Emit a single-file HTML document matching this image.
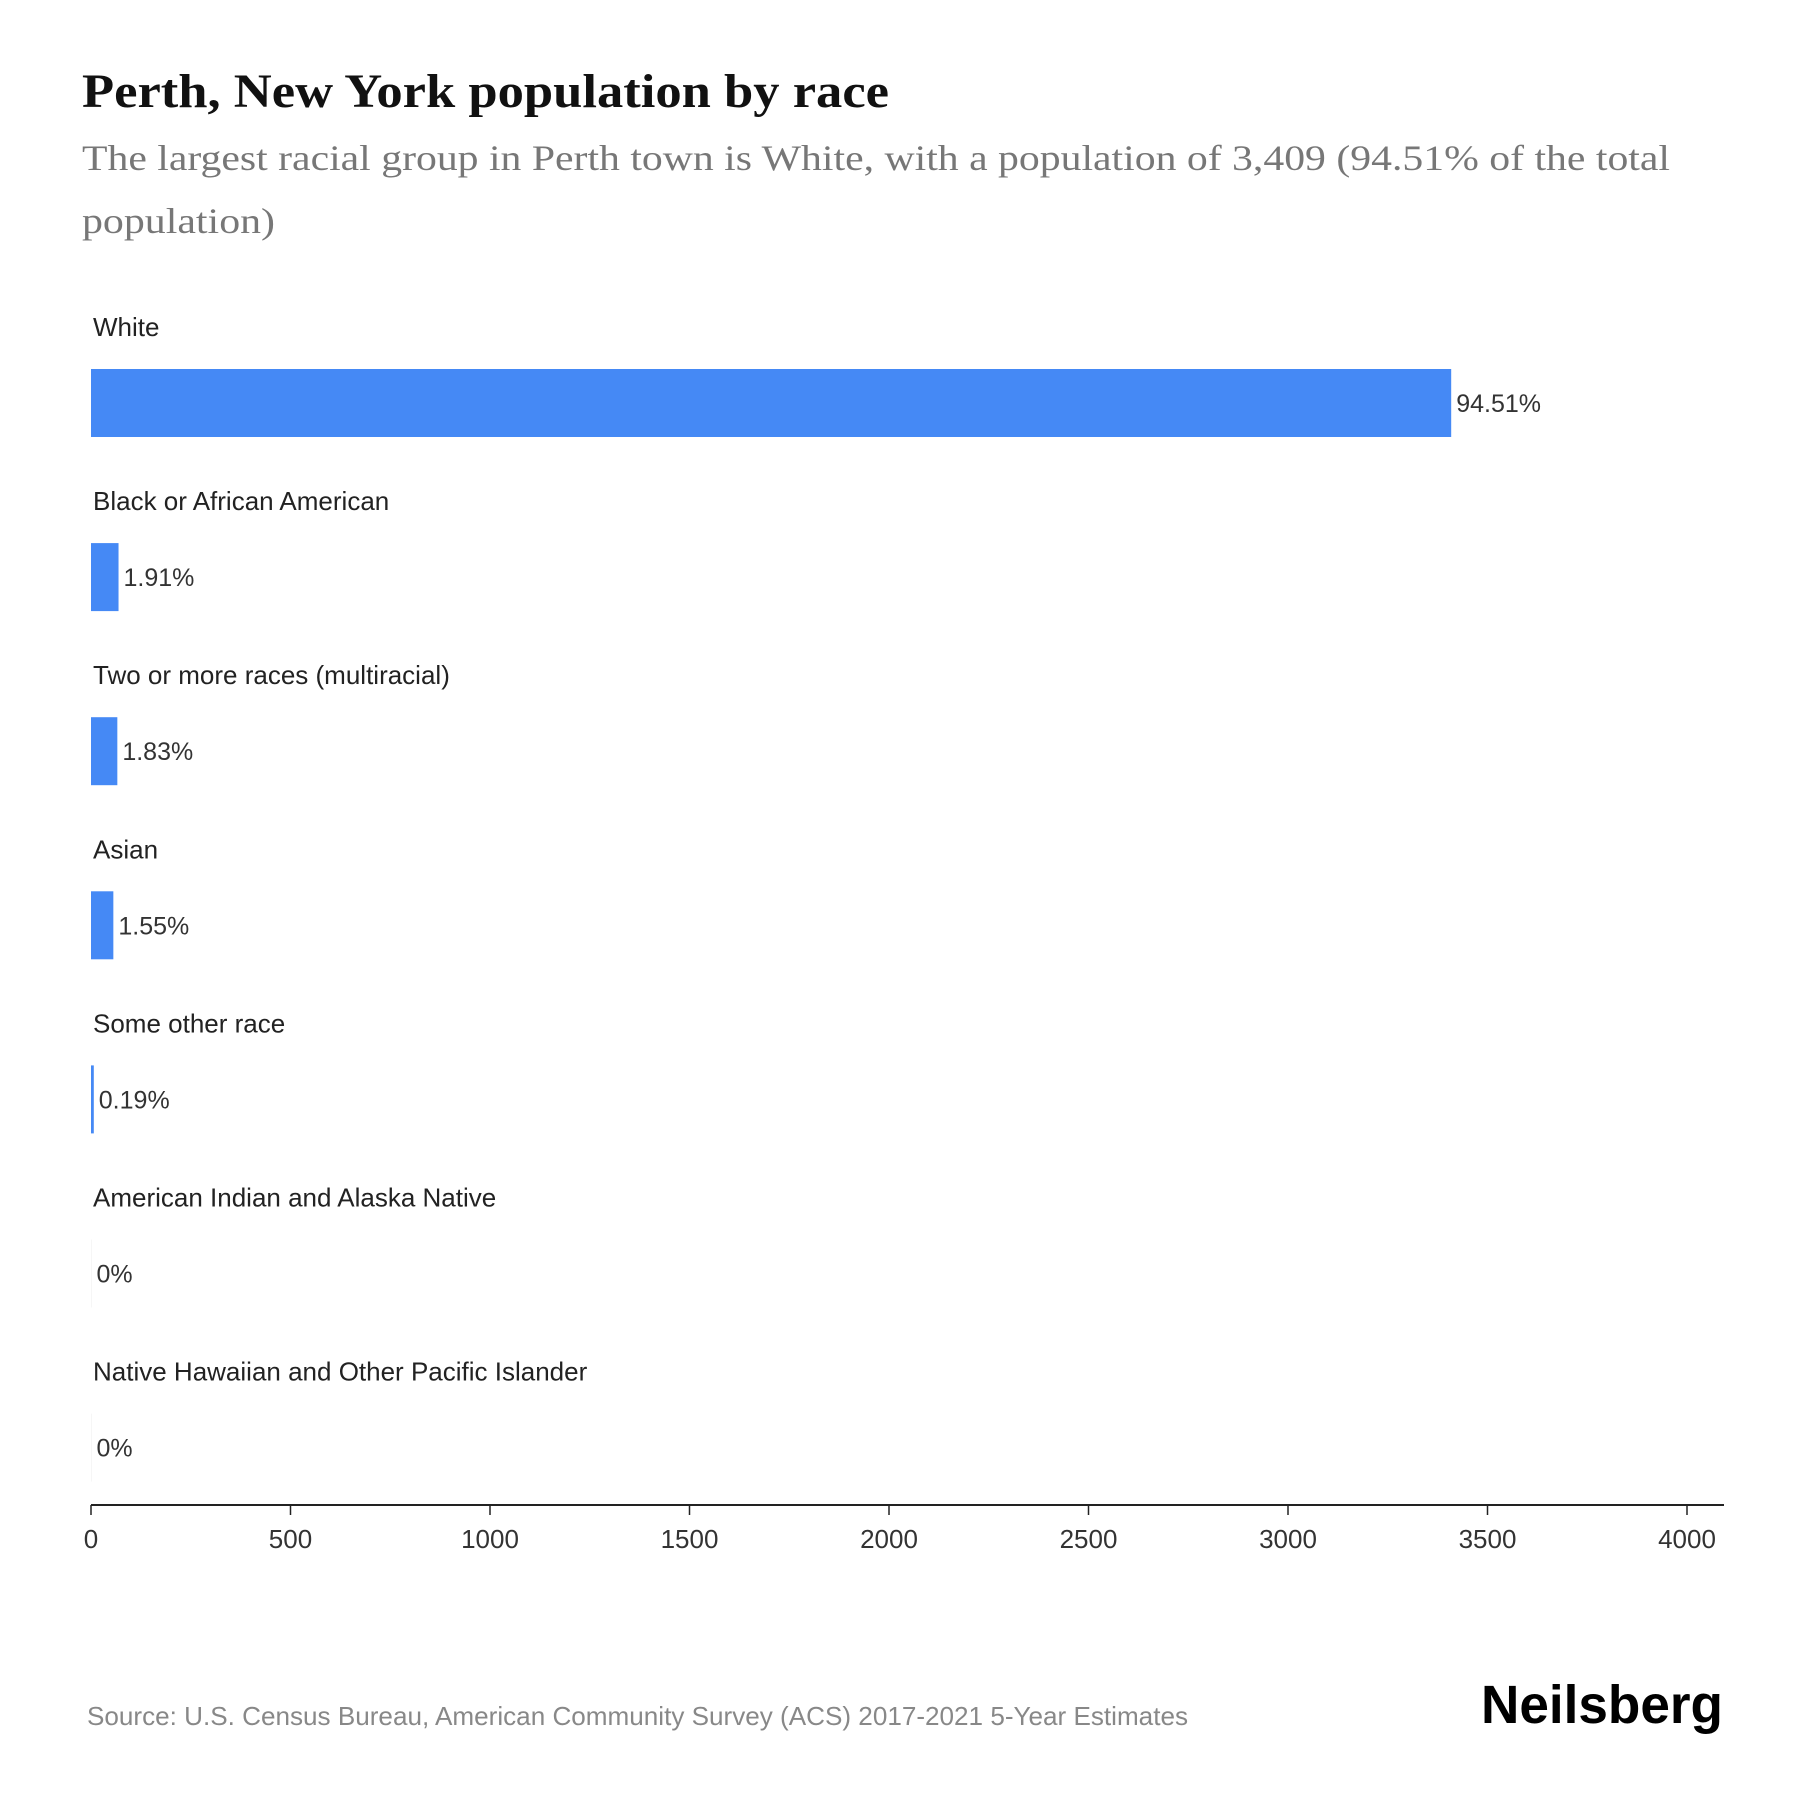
<!DOCTYPE html>
<html><head><meta charset="utf-8"><style>
body{margin:0;background:#fff;width:1800px;height:1800px;overflow:hidden}
svg text{font-family:"Liberation Sans",sans-serif}
</style></head><body>
<svg width="1800" height="1800" xmlns="http://www.w3.org/2000/svg">
<text x="82" y="107" font-weight="bold" font-size="48" fill="#111" textLength="807" lengthAdjust="spacingAndGlyphs" style="font-family:'Liberation Serif',serif">Perth, New York population by race</text>
<text x="82" y="170" font-size="36" fill="#777" textLength="1588" lengthAdjust="spacingAndGlyphs" style="font-family:'Liberation Serif',serif">The largest racial group in Perth town is White, with a population of 3,409 (94.51% of the total</text>
<text x="82" y="233" font-size="36" fill="#777" textLength="193" lengthAdjust="spacingAndGlyphs" style="font-family:'Liberation Serif',serif">population)</text>
<g id="bars"></g>
<g id="axis"></g>
<text x="87" y="1725" font-size="26" fill="#888" textLength="1101" lengthAdjust="spacingAndGlyphs">Source: U.S. Census Bureau, American Community Survey (ACS) 2017-2021 5-Year Estimates</text>
<text x="1481" y="1723" font-size="54" font-weight="bold" fill="#000" textLength="242" lengthAdjust="spacingAndGlyphs">Neilsberg</text>
</svg>
<script>
const categories=["White","Black or African American","Two or more races (multiracial)","Asian","Some other race","American Indian and Alaska Native","Native Hawaiian and Other Pacific Islander"];
const values=[3409,69,66,56,7,0,0];
const percentLabels=["94.51%","1.91%","1.83%","1.55%","0.19%","0%","0%"];
const ticks=[0,500,1000,1500,2000,2500,3000,3500,4000];
const NS="http://www.w3.org/2000/svg";
const x0=91,x1=1687,maxV=4000;
const xs=v=>x0+(x1-x0)*v/maxV;
const top0=369,step=174.1,bh=68;
const bars=document.getElementById('bars');
function mk(t,a){const e=document.createElementNS(NS,t);for(const k in a)e.setAttribute(k,a[k]);return e;}
categories.forEach((c,i)=>{
 const y=top0+i*step;
 const l=mk('text',{x:93,y:y-33,'font-size':26,fill:'#222'});l.textContent=c;
 
 
 bars.appendChild(l);
 const w=Math.max(xs(values[i])-x0,values[i]>0?1.5:0.5);
 const r=mk('rect',{x:x0,y:y,width:w,height:bh,fill:values[i]>0?'#4589f5':'#eee'});
 
 
 bars.appendChild(r);
 const v=mk('text',{x:x0+w+5,y:y+bh/2+9,'font-size':25,fill:'#333'});v.textContent=percentLabels[i];
 
 
 bars.appendChild(v);
});
const ax=document.getElementById('axis');
const line=mk('line',{x1:x0,x2:1724,y1:1505,y2:1505,stroke:'#222','stroke-width':2});


ax.appendChild(line);
ticks.forEach(t=>{
 const tl=mk('line',{x1:xs(t),x2:xs(t),y1:1505,y2:1515,stroke:'#222','stroke-width':1.5});
 
 
 ax.appendChild(tl);
 const tx=mk('text',{x:xs(t),y:1548,'text-anchor':'middle','font-size':26,fill:'#333'});tx.textContent=t;
 
 
 ax.appendChild(tx);
});
</script>
</body></html>
